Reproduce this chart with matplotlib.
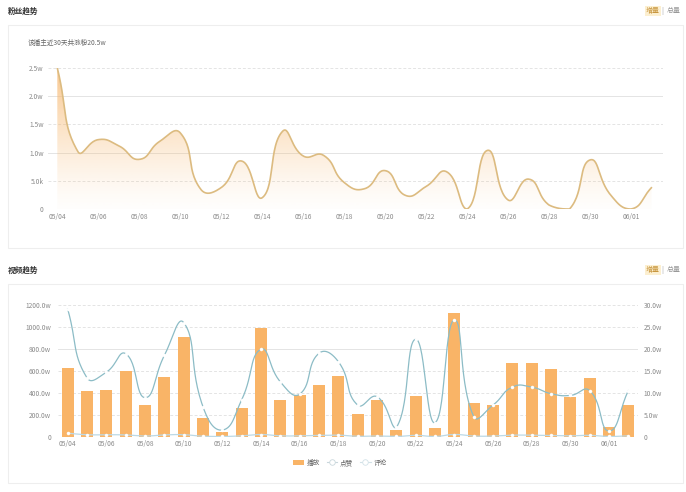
import numpy as np
import matplotlib
matplotlib.use('Agg')
import matplotlib.pyplot as plt
from matplotlib.patches import Rectangle, Polygon
from matplotlib.lines import Line2D

plt.rcParams['font.family'] = ['Noto Sans CJK SC', 'DejaVu Sans']

# ---------------- data ----------------
dates = ['05/04', '05/05', '05/06', '05/07', '05/08', '05/09', '05/10', '05/11',
         '05/12', '05/13', '05/14', '05/15', '05/16', '05/17', '05/18', '05/19',
         '05/20', '05/21', '05/22', '05/23', '05/24', '05/25', '05/26', '05/27',
         '05/28', '05/29', '05/30', '05/31', '06/01', '06/02']

# fans gained per day (units of w = 10k)
fans_w = [2.50, 1.02, 1.23, 1.12, 0.88, 1.20, 1.35, 0.35, 0.38, 0.85,
          0.20, 1.38, 0.94, 0.95, 0.47, 0.36, 0.68, 0.24, 0.40, 0.66,
          0.00, 1.04, 0.16, 0.53, 0.07, 0.00, 0.87, 0.25, 0.00, 0.38]

# plays per day (w)
plays_w = [629, 418, 424, 598, 290, 543, 907, 167, 46, 258,
           987, 331, 377, 471, 553, 207, 331, 61, 374, 76,
           1124, 307, 292, 671, 671, 614, 361, 535, 91, 289]

# likes per day (w)
likes_w = [29.1, 13.4, 14.7, 18.9, 8.9, 18.5, 26.0, 6.8, 1.5, 8.4,
           19.9, 12.5, 9.7, 19.0, 17.1, 7.2, 9.1, 2.1, 22.2, 3.2,
           26.6, 4.6, 7.2, 11.3, 11.3, 9.8, 9.4, 10.5, 1.3, 10.5]

# comments per day (w)
comments_w = [0.80, 0.45, 0.45, 0.40, 0.15, 0.40, 0.45, 0.10, 0.05, 0.20,
              0.50, 0.20, 0.20, 0.30, 0.35, 0.10, 0.15, 0.05, 0.30, 0.05,
              0.50, 0.15, 0.15, 0.35, 0.35, 0.30, 0.20, 0.30, 0.05, 0.20]

fan_ticks = [0, 0.5, 1.0, 1.5, 2.0, 2.5]
fan_tick_labels = ['0', '5.0k', '1.0w', '1.5w', '2.0w', '2.5w']
play_ticks = [0, 200, 400, 600, 800, 1000, 1200]
play_tick_labels = ['0', '200.0w', '400.0w', '600.0w', '800.0w', '1000.0w', '1200.0w']
like_ticks = [0, 5, 10, 15, 20, 25, 30]
like_tick_labels = ['0', '5.0w', '10.0w', '15.0w', '20.0w', '25.0w', '30.0w']
legend_labels = ['播放', '点赞', '评论']

# ---------------- helpers ----------------
W, H = 686, 492
fig = plt.figure(figsize=(W / 100, H / 100), dpi=100)
fig.patch.set_facecolor('white')


def rect(x0, y0, x1, y1):
    return [x0 / W, 1 - y1 / H, (x1 - x0) / W, (y1 - y0) / H]


def smooth_curve(ax, xs, ys, smooth=0.5, n=30):
    """echarts-like smoothed bezier through the points, computed in pixel space."""
    xs = np.asarray(xs, float)
    ys = np.asarray(ys, float)
    pts = ax.transData.transform(np.column_stack([xs, ys]))
    lo = pts.min(axis=0)
    hi = pts.max(axis=0)
    N = len(pts)
    cpb = np.zeros_like(pts)
    cpa = np.zeros_like(pts)
    for i in range(N):
        p = pts[i]
        prev = pts[i - 1] if i > 0 else p
        nxt = pts[i + 1] if i < N - 1 else p
        v = nxt - prev
        d0 = np.hypot(*(p - prev))
        d1 = np.hypot(*(nxt - p))
        r = d1 / (d0 + d1) if (d0 + d1) > 0 else 0.5
        c0 = p - v * smooth * (1 - r)
        c1 = p + v * smooth * r
        cpb[i] = np.clip(c0, lo, hi)
        cpa[i] = np.clip(c1, lo, hi)
    t = np.linspace(0, 1, n)[:, None]
    segs = []
    for i in range(N - 1):
        P0, P1, P2, P3 = pts[i], cpa[i], cpb[i + 1], pts[i + 1]
        B = (1 - t) ** 3 * P0 + 3 * (1 - t) ** 2 * t * P1 + 3 * (1 - t) * t ** 2 * P2 + t ** 3 * P3
        segs.append(B if i == 0 else B[1:])
    out = np.vstack(segs)
    return ax.transData.inverted().transform(out)


grid_c = '#e4e4e4'
tick_c = '#8a8a8a'
fs_tick = 4.8

# ---------------- cards & headers ----------------
for (y0, y1) in [(25, 248), (284, 483)]:
    fig.patches.append(Rectangle((8 / W, 1 - y1 / H), (683 - 8) / W, (y1 - y0) / H,
                                 transform=fig.transFigure, fill=False,
                                 edgecolor='#eeeeee', linewidth=0.8))

for title, ty in [('粉丝趋势', 11), ('视频趋势', 270)]:
    fig.text(8 / W, 1 - ty / H, title, fontsize=5.5, fontweight='bold',
             color='#333333', va='center', ha='left')
    fig.text(660 / W, 1 - ty / H, '增量', fontsize=5, color='#c8963e', va='center', ha='right',
             bbox=dict(boxstyle='square,pad=0.1', facecolor='#fcefd0', edgecolor='none'))
    fig.text(662 / W, 1 - ty / H, '|', fontsize=5, color='#aaaaaa', va='center', ha='center')
    fig.text(681 / W, 1 - ty / H, '总量', fontsize=5, color='#999999', va='center', ha='right')

fig.text(28 / W, 1 - 43 / H, '该播主近30天共涨粉20.5w', fontsize=4.8, color='#666666',
         va='center', ha='left')

# ---------------- top chart: fans ----------------
x = np.arange(len(dates))
axT = fig.add_axes(rect(48, 68, 663, 209))
axT.set_xlim(-0.454, 29.56)
axT.set_ylim(0, 2.5)
for s in axT.spines.values():
    s.set_visible(False)
for yv in fan_ticks:
    solid = yv in (1.0, 2.0)
    axT.axhline(yv, color=grid_c, linewidth=0.7, linestyle='-' if solid else (0, (3, 2)), zorder=0)

curve = smooth_curve(axT, x, fans_w, smooth=0.5)
poly_pts = np.vstack([curve, [[curve[-1, 0], 0], [curve[0, 0], 0]]])
clip = Polygon(poly_pts, closed=True, transform=axT.transData, facecolor='none', edgecolor='none')
axT.add_patch(clip)
grad = np.zeros((256, 1, 4))
tvals = np.linspace(1, 0, 256)  # top -> bottom
base = np.array([247, 183, 110]) / 255.0
grad[:, 0, 0:3] = base
grad[:, 0, 3] = 0.75 * tvals ** 1.3 + 0.02
img = axT.imshow(grad, extent=[curve[0, 0], curve[-1, 0], 0, max(fans_w)], aspect='auto',
                 origin='upper', zorder=1, interpolation='bilinear')
img.set_clip_path(clip)
axT.plot(curve[:, 0], curve[:, 1], color='#dcbb80', linewidth=1.2, zorder=3,
         solid_capstyle='round')

axT.set_yticks(fan_ticks)
axT.set_yticklabels(fan_tick_labels)
axT.set_xticks(x[::2])
axT.set_xticklabels(dates[::2])
axT.tick_params(axis='both', length=0, labelsize=fs_tick, labelcolor=tick_c)
axT.tick_params(axis='y', pad=3)
axT.tick_params(axis='x', pad=3)

# ---------------- bottom chart: videos ----------------
axB = fig.add_axes(rect(58, 305, 638, 436.7))
axB.set_xlim(-0.5, 29.5)
axB.set_ylim(0, 1200)
for s in axB.spines.values():
    s.set_visible(False)
for yv in play_ticks:
    solid = yv in (800,)
    axB.axhline(yv, color=grid_c, linewidth=0.7, linestyle='-' if solid else (0, (3, 2)), zorder=0)

bar_c = '#f9b467'
axB.bar(x, plays_w, width=0.62, color=bar_c, zorder=2)
axB.set_yticks(play_ticks)
axB.set_yticklabels(play_tick_labels)
axB.set_xticks(x[::2])
axB.set_xticklabels(dates[::2])
axB.tick_params(axis='both', length=0, labelsize=fs_tick, labelcolor=tick_c)
axB.tick_params(axis='y', pad=5)
axB.tick_params(axis='x', pad=2.5)

axR = axB.twinx()
axR.set_ylim(0, 30)
axR.set_xlim(-0.5, 29.5)
for s in axR.spines.values():
    s.set_visible(False)
axR.set_yticks(like_ticks)
axR.set_yticklabels(like_tick_labels)
axR.tick_params(axis='y', length=0, labelsize=fs_tick, labelcolor=tick_c, pad=4)

like_c = '#8cbcc6'
com_c = '#bcd9e6'
lc = smooth_curve(axR, x, likes_w, smooth=0.5)
axR.plot(lc[:, 0], lc[:, 1], color=like_c, linewidth=0.9, zorder=3)
axR.plot(x, likes_w, linestyle='none', marker='o', markersize=2.2,
         markerfacecolor='white', markeredgecolor='white', markeredgewidth=0.3, zorder=4)
cc = smooth_curve(axR, x, comments_w, smooth=0.5)
axR.plot(cc[:, 0], cc[:, 1], color=com_c, linewidth=0.9, zorder=3)
axR.plot(x, comments_w, linestyle='none', marker='o', markersize=2.2,
         markerfacecolor='white', markeredgecolor='white', markeredgewidth=0.3, zorder=4)

handles = [
    Rectangle((0, 0), 1, 1, facecolor=bar_c, edgecolor='none'),
    Line2D([0], [0], color='#c9d7dc', linewidth=0.8, marker='o', markersize=4,
           markerfacecolor='white', markeredgecolor='#c9d7dc', markeredgewidth=0.6),
    Line2D([0], [0], color='#d3e2e8', linewidth=0.8, marker='o', markersize=4,
           markerfacecolor='white', markeredgecolor='#d3e2e8', markeredgewidth=0.6),
]
leg = fig.legend(handles, legend_labels, loc='center', bbox_to_anchor=(340 / W, 1 - 463 / H),
                 ncol=3, frameon=False, fontsize=4.8, handlelength=1.6, handleheight=0.9,
                 columnspacing=1.0, handletextpad=0.4)
for t in leg.get_texts():
    t.set_color('#666666')

fig.savefig('out.png', dpi=100, facecolor='white')
